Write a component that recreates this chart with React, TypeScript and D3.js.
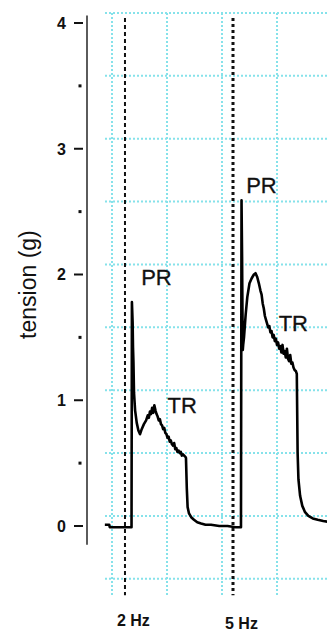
import React from "react";
import * as d3 from "d3";

// time (s) and tension (g)
const traceTime = [
  -1.3, -0.5, -0.4, 1.0, 2.5, 3.55, 3.62, 3.75, 3.82, 3.9, 4.0, 4.2, 4.5, 4.8, 5.1, 5.4, 5.8, 6.2, 6.5, 6.7,
  6.9, 7.1, 7.3, 7.5, 7.7, 7.9, 8.1, 8.3, 8.5, 8.7, 8.9, 9.1, 9.3, 9.5, 9.7, 9.9, 10.1, 10.3, 10.5, 10.7,
  10.9, 11.1, 11.3, 11.5, 11.7, 11.9, 12.1, 12.3, 12.5, 12.7, 12.9, 13.1, 13.35, 13.45, 13.6,
  13.75, 14.0, 14.4, 14.9, 15.5, 16.2, 17.0, 18.0, 19.5, 21.0, 22.5, 23.45, 23.55, 23.65, 23.72, 23.78, 23.85,
  24.0, 24.3, 24.6, 25.0, 25.4, 25.8, 26.1, 26.4, 26.7, 27.0, 27.2, 27.4, 27.6, 27.8, 28.0, 28.2, 28.4, 28.6,
  28.8, 29.0, 29.2, 29.4, 29.6, 29.8, 30.0, 30.2, 30.4, 30.6, 30.8, 31.0, 31.2, 31.4, 31.6, 31.8, 32.0, 32.2,
  32.4, 32.6, 32.8, 33.0, 33.2, 33.45, 33.6, 33.75, 33.9, 34.2, 34.6, 35.1, 35.7, 36.5, 37.4,
  38.4, 39.6,
];
const traceTension = [
  0.01, 0.01, -0.01, -0.01, -0.01, -0.01, 1.78, 1.62, 1.42, 1.3, 1.06, 0.92, 0.82, 0.76, 0.73, 0.77, 0.81, 0.84, 0.88, 0.86,
  0.91, 0.89, 0.94, 0.9, 0.96, 0.92, 0.89, 0.87, 0.84, 0.85, 0.81, 0.8, 0.77, 0.78, 0.74, 0.73, 0.7, 0.71, 0.67, 0.68,
  0.65, 0.64, 0.66, 0.61, 0.62, 0.59, 0.6, 0.58, 0.59, 0.56, 0.57, 0.56, 0.55, 0.54, 0.3,
  0.15, 0.1, 0.07, 0.05, 0.03, 0.02, 0.01, 0.01, 0.0, 0.0, -0.01, -0.01, 2.59, 2.14, 1.7, 1.4, 1.44,
  1.5, 1.68, 1.82, 1.93, 1.97, 2.0, 2.01, 1.98, 1.93, 1.87, 1.84, 1.77, 1.73, 1.67, 1.64, 1.61, 1.58, 1.59,
  1.54, 1.55, 1.5, 1.52, 1.47, 1.49, 1.44, 1.46, 1.41, 1.43, 1.38, 1.44, 1.37, 1.39, 1.34, 1.41, 1.33, 1.31,
  1.36, 1.29, 1.3, 1.26, 1.24, 1.23, 1.21, 0.58, 0.37, 0.24, 0.16, 0.11, 0.08, 0.06, 0.05,
  0.04, 0.03,
];

const yTicks = [0, 1, 2, 3, 4];
const yMinorTicks = [0.5, 1.5, 2.5, 3.5];
const gridTension = [4.08, 3.58, 3.08, 2.58, 2.08, 1.58, 1.08, 0.58, 0.08, -0.42];
const gridTime = [0, 10, 20, 30, 40];
const stimTime = [2.36, 22.0];
const stimLabels = ["2 Hz", "5 Hz"];
const phaseLabels = [
  { text: "PR", t: 5.3, v: 1.92 },
  { text: "TR", t: 10.1, v: 0.9 },
  { text: "PR", t: 24.4, v: 2.65 },
  { text: "TR", t: 30.3, v: 1.55 },
];

const W = 327;
const H = 634;
const font = "'Liberation Sans', Arial, sans-serif";

export default function App() {
  const x = d3.scaleLinear().domain([0, 10]).range([112, 167]);
  const y = d3.scaleLinear().domain([0, 4]).range([526, 23]);

  const pts = traceTime.map((t, i) => [t, traceTension[i]] as [number, number]);
  const line = d3
    .line<[number, number]>()
    .x((d) => x(d[0]))
    .y((d) => y(d[1]));

  return (
    <svg width={W} height={H} style={{ display: "block", position: "absolute", left: 0, top: 0, background: "#fff" }}>
      <style>{`body{margin:0}`}</style>
      {/* grid */}
      {gridTension.map((v) => (
        <line key={"gh" + v} x1={105} x2={W} y1={y(v)} y2={y(v)} stroke="#86e2ea" strokeWidth={2} strokeDasharray="2 2" />
      ))}
      {gridTime.map((t) => (
        <line key={"gv" + t} x1={x(t)} x2={x(t)} y1={y(4.08)} y2={y(-0.56)} stroke="#86e2ea" strokeWidth={2} strokeDasharray="2 2" />
      ))}

      {/* stimulus markers */}
      <line x1={x(stimTime[0])} x2={x(stimTime[0])} y1={y(4.04)} y2={y(-0.55)} stroke="#111" strokeWidth={2} strokeDasharray="4 3" />
      <line x1={x(stimTime[1])} x2={x(stimTime[1])} y1={y(4.04)} y2={y(-0.55)} stroke="#111" strokeWidth={3} strokeDasharray="3 3" />

      {/* y axis */}
      <line x1={87} x2={87} y1={y(4.06)} y2={y(-0.15)} stroke="#333" strokeWidth={1.6} />
      {yTicks.map((v) => (
        <g key={"t" + v}>
          <line x1={74} x2={83} y1={y(v)} y2={y(v)} stroke="#111" strokeWidth={2} />
          <text x={66} y={y(v)} dy="0.36em" textAnchor="end" fontFamily={font} fontWeight="bold" fontSize={16} fill="#111">
            {v}
          </text>
        </g>
      ))}
      {yMinorTicks.map((v) => (
        <rect key={"m" + v} x={78.5} y={y(v) - 1.5} width={3} height={3} fill="#111" />
      ))}
      <text
        transform={`translate(36,${y(1.92)}) rotate(-90)`}
        textAnchor="middle"
        fontFamily={font}
        fontSize={23}
        fill="#111"
      >
        tension (g)
      </text>

      {/* trace */}
      <path d={line(pts) || ""} fill="none" stroke="#000" strokeWidth={2.6} strokeLinejoin="round" />

      {phaseLabels.map((p, i) => (
        <text key={"p" + i} x={x(p.t)} y={y(p.v)} fontFamily={font} fontSize={22} fill="#111" stroke="#111" strokeWidth={0.3}>
          {p.text}
        </text>
      ))}

      {stimLabels.map((s, i) => (
        <text
          key={s}
          x={x(stimTime[i]) - 8}
          y={i === 0 ? 626 : 629}
          fontFamily={font}
          fontWeight="bold"
          fontSize={16}
          fill="#111"
        >
          {s}
        </text>
      ))}
    </svg>
  );
}
